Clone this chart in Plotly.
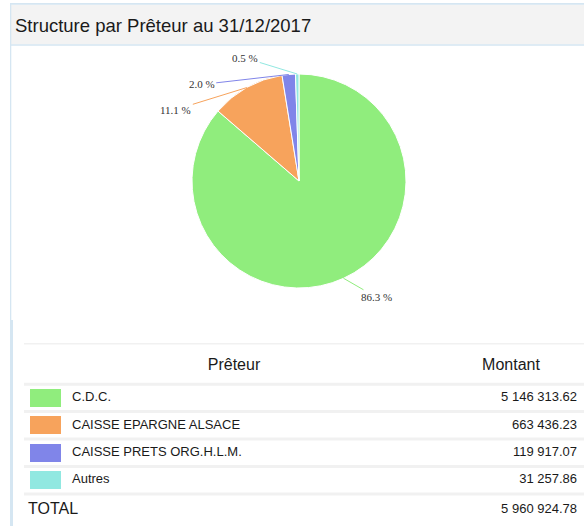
import math
import plotly.graph_objects as go

# ---------------- data ----------------
lenders = ["C.D.C.", "CAISSE EPARGNE ALSACE", "CAISSE PRETS ORG.H.L.M.", "Autres"]
amounts = [5146313.62, 663436.23, 119917.07, 31257.86]
colors = ["#90ed7d", "#f7a35c", "#8085e9", "#91e8e1"]
title_text = "Structure par Prêteur au 31/12/2017"
header_labels = ["Prêteur", "Montant"]
total_label = "TOTAL"

# ---------------- layout constants ----------------
W, H = 584, 526
FONT = "Liberation Sans, Arial, sans-serif"
SERIF = "Liberation Serif, Times New Roman, serif"
BORDER = "#d5e6f2"
PIE_CX, PIE_CY, PIE_R = 299, 181, 107
# label offsets (pixels, from slice edge point to label centre)
LABEL_OFFSETS = [(33, 19), (-71, 22), (-87, 10), (-52, -16)]


def px(x):
    return x / W


def py(y):
    return 1 - y / H


def fmt(v):
    return f"{v:,.2f}".replace(",", " ")


total = sum(amounts)
fig = go.Figure()

# ---------------- pie ----------------
fig.add_trace(go.Pie(
    labels=lenders, values=amounts, sort=False, direction="clockwise", rotation=0,
    marker=dict(colors=colors, line=dict(color="white", width=1)),
    textinfo="none", hoverinfo="label+percent", showlegend=False,
    domain=dict(x=[px(PIE_CX - PIE_R), px(PIE_CX + PIE_R)],
                y=[py(PIE_CY + PIE_R), py(PIE_CY - PIE_R)]),
))

annotations = []
cum = 0.0
for v, c, (ax, ay) in zip(amounts, colors, LABEL_OFFSETS):
    frac = v / total
    mid = (cum + frac / 2) * 2 * math.pi
    cum += frac
    ex = PIE_CX + PIE_R * math.sin(mid)
    ey = PIE_CY - PIE_R * math.cos(mid)
    annotations.append(dict(
        x=px(ex), y=py(ey), xref="paper", yref="paper",
        text=f"{frac * 100:.1f} %", showarrow=True, arrowhead=0, arrowwidth=1,
        arrowcolor=c, ax=ax, ay=ay, standoff=0,
        font=dict(family=SERIF, size=11, color="#333"),
    ))

annotations.append(dict(
    x=px(13), y=py(25), xref="paper", yref="paper", xanchor="left", yanchor="middle",
    text=title_text, showarrow=False, font=dict(family=FONT, size=18.5, color="#1a1a1a"),
))

# ---------------- table (on its own axes) ----------------
rows = list(range(1, len(lenders) + 1))
header_y = -0.17
total_y = len(lenders) + 1.09

fig.add_trace(go.Bar(
    orientation="h", y=rows, x=[31] * len(rows), base=30, width=0.66,
    marker=dict(color=colors, line=dict(width=0)),
    xaxis="x2", yaxis="y2", hoverinfo="skip", showlegend=False,
))
fig.add_trace(go.Scatter(
    x=[72] * len(rows), y=rows, mode="text", text=lenders, textposition="middle right",
    textfont=dict(family=FONT, size=13, color="#1a1a1a"),
    xaxis="x2", yaxis="y2", hoverinfo="skip", showlegend=False,
))
fig.add_trace(go.Scatter(
    x=[577] * (len(rows) + 1), y=rows + [total_y], mode="text",
    text=[fmt(v) for v in amounts] + [fmt(total)], textposition="middle left",
    textfont=dict(family=FONT, size=13, color="#1a1a1a"),
    xaxis="x2", yaxis="y2", hoverinfo="skip", showlegend=False,
))
fig.add_trace(go.Scatter(
    x=[234, 511], y=[header_y, header_y], mode="text", text=header_labels,
    textposition="middle center", textfont=dict(family=FONT, size=16, color="#1a1a1a"),
    xaxis="x2", yaxis="y2", hoverinfo="skip", showlegend=False,
))
fig.add_trace(go.Scatter(
    x=[28], y=[total_y], mode="text", text=[total_label], textposition="middle right",
    textfont=dict(family=FONT, size=16, color="#1a1a1a"),
    xaxis="x2", yaxis="y2", hoverinfo="skip", showlegend=False,
))

shapes = []
# separators between table rows
for yb in [-1.0] + [r - 0.5 for r in rows] + [len(rows) + 0.5]:
    shapes.append(dict(type="line", xref="x2", yref="y2", x0=24, x1=584, y0=yb, y1=yb,
                       line=dict(color="#f1f1f1", width=3), layer="below"))


# panel frame / title bar
def prect(x0, y0, x1, y1, color):
    return dict(type="rect", xref="paper", yref="paper", x0=px(x0), x1=px(x1),
                y0=py(y1), y1=py(y0), fillcolor=color, line=dict(width=0), layer="below")


shapes += [
    prect(11, 4.5, 584, 44.5, "#f3f3f3"),
    prect(10, 3, 584, 4.8, BORDER),
    prect(11, 44.3, 584, 45.8, BORDER),
    prect(10, 3, 11.3, 320, BORDER),
    prect(10, 320, 13, 526, BORDER),
]

fig.update_layout(
    width=W, height=H, margin=dict(l=0, r=0, t=0, b=0),
    paper_bgcolor="white", plot_bgcolor="rgba(0,0,0,0)",
    annotations=annotations, shapes=shapes, showlegend=False, bargap=0,
    xaxis2=dict(domain=[0, 1], range=[0, W], visible=False, fixedrange=True, anchor="y2"),
    yaxis2=dict(domain=[0, (H - 343) / H], range=[5.67, -1.0], visible=False,
                fixedrange=True, anchor="x2"),
    xaxis=dict(visible=False), yaxis=dict(visible=False),
)

fig.write_html(
    "out.html",
    config={"displayModeBar": False},
    post_script="document.body.style.margin='0';document.body.style.overflow='hidden';",
)
